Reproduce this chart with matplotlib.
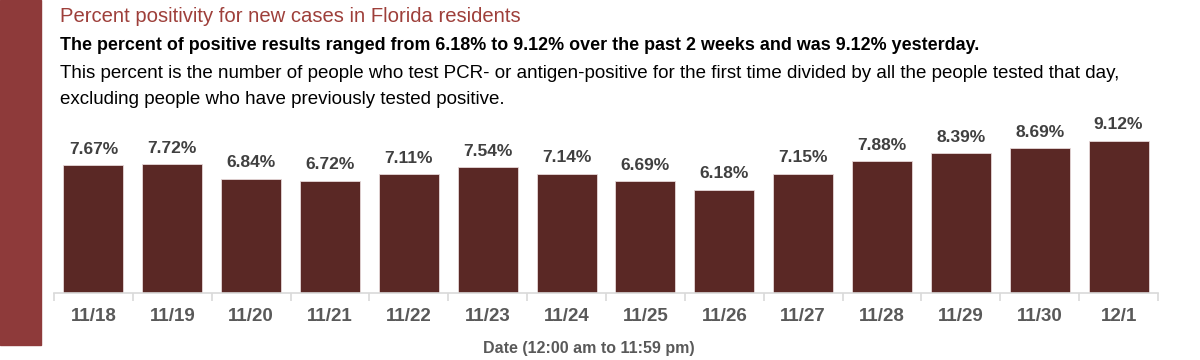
import matplotlib
matplotlib.use("Agg")
import matplotlib.pyplot as plt
from matplotlib.patches import Rectangle

dates = ["11/18", "11/19", "11/20", "11/21", "11/22", "11/23", "11/24",
         "11/25", "11/26", "11/27", "11/28", "11/29", "11/30", "12/1"]
positivity = [7.67, 7.72, 6.84, 6.72, 7.11, 7.54, 7.14,
              6.69, 6.18, 7.15, 7.88, 8.39, 8.69, 9.12]

title = "Percent positivity for new cases in Florida residents"
subtitle = ("The percent of positive results ranged from 6.18% to 9.12% "
            "over the past 2 weeks and was 9.12% yesterday.")
desc1 = ("This percent is the number of people who test PCR- or antigen-positive "
         "for the first time divided by all the people tested that day,")
desc2 = "excluding people who have previously tested positive."
xlabel = "Date (12:00 am to 11:59 pm)"

BAR = "#5A2825"
SIDE = "#8E3A3A"
TITLE_C = "#9E3F3A"
LABEL_C = "#404040"
TICK_C = "#595959"
GRID_C = "#D9D9D9"

plt.rcParams['font.family'] = ['Liberation Sans', 'DejaVu Sans']

fig = plt.figure(figsize=(12, 3.6), dpi=100)
fig.patches.append(Rectangle((0, 1 - 345 / 360), 41 / 1200, 345 / 360,
                             transform=fig.transFigure, color=SIDE, zorder=0))

fig.text(60 / 1200, 1 - 17 / 360, title, color=TITLE_C, fontsize=14.6,
         va="center", ha="left")
fig.text(60 / 1200, 1 - 46 / 360, subtitle, color="black", fontsize=12.9,
         fontweight="bold", va="center", ha="left")
fig.text(60 / 1200, 1 - 74 / 360, desc1, color="black", fontsize=13.5,
         va="center", ha="left")
fig.text(60 / 1200, 1 - 99 / 360, desc2, color="black", fontsize=13.5,
         va="center", ha="left")

ax = fig.add_axes([54 / 1200, 1 - 293 / 360, 1104 / 1200, 183 / 360])
x = list(range(len(dates)))
bars = ax.bar(x, positivity, width=0.76, color=BAR, edgecolor="#E6D8D8",
              linewidth=0.6)
ax.set_ylim(0, 183 / 16.7)
ax.set_xlim(-0.5, len(dates) - 0.5)
for xi, v in zip(x, positivity):
    ax.annotate(f"{v:.2f}%", (xi, v), xytext=(0, 6), textcoords="offset points",
                ha="center", va="bottom", fontsize=12.5, fontweight="bold",
                color=LABEL_C, clip_on=False)

for s in ["top", "right", "left"]:
    ax.spines[s].set_visible(False)
ax.spines["bottom"].set_color(GRID_C)
ax.spines["bottom"].set_linewidth(1.2)
ax.set_yticks([])
ax.set_xticks(x)
ax.set_xticklabels(dates, fontsize=13.5, fontweight="bold", color=TICK_C)
ax.tick_params(axis="x", which="major", length=0, pad=11)
ax.set_xticks([i - 0.5 for i in range(len(dates) + 1)], minor=True)
ax.tick_params(axis="x", which="minor", length=6, color=GRID_C, width=1.2)
ax.set_xlabel(xlabel, fontsize=11.5, fontweight="bold", color=TICK_C)
ax.xaxis.set_label_coords(0.484, -0.265)

fig.savefig("out.png", dpi=100)
